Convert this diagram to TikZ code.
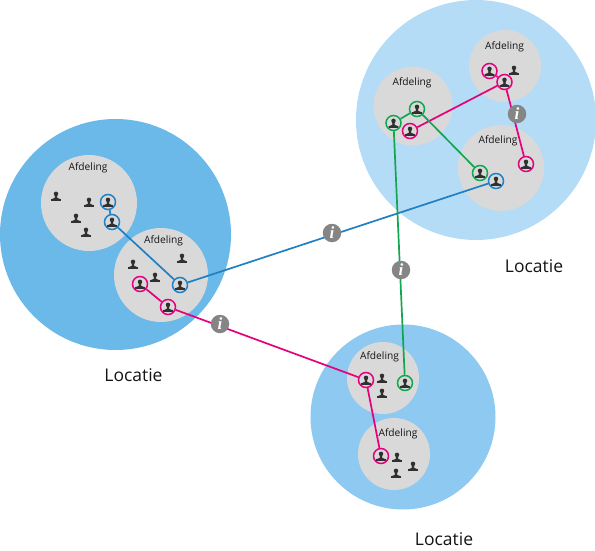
\documentclass[tikz,border=0pt]{standalone}
\usepackage{fontspec}
\setmainfont{Open Sans}
\newfontfamily\infofont{Liberation Serif}
\definecolor{LocA}{HTML}{6AB9E9}
\definecolor{LocB}{HTML}{B4DCF7}
\definecolor{LocC}{HTML}{8DC9F0}
\definecolor{Dept}{HTML}{D9D9D9}
\definecolor{Blue}{HTML}{2080C4}
\definecolor{Pink}{HTML}{E5007D}
\definecolor{Green}{HTML}{12A650}
\definecolor{Info}{HTML}{858585}
\definecolor{Figure}{HTML}{303030}
\tikzset{
  location/.style={circle,inner sep=0pt,minimum size=#1},
  dept/.style={circle,fill=Dept,inner sep=0pt,minimum size=#1},
  deptlabel/.style={font=\fontsize{10.2}{12}\selectfont,text=black!92},
  loclabel/.style={font=\fontsize{17.5}{20}\selectfont,text=black!92},
  person/.style={circle,inner sep=0pt,minimum size=15pt,path picture={
    \fill[Figure,shift={(path picture bounding box.center)}]
      (-4.8,4.8)--(-4.8,3.2)--(-1.3,2)--(-1.1,0.6)
      .. controls (-2.8,-0.6) and (-2.8,-4.4) .. (0,-4.4)
      .. controls (2.8,-4.4) and (2.8,-0.6) .. (1.1,0.6)
      --(1.3,2)--(4.8,3.2)--(4.8,4.8)--cycle;}},
  ring/.style={person,draw=#1,line width=1.5pt},
  link/.style={line width=1.7pt,#1},
  info/.style={circle,fill=Info,text=white,inner sep=0pt,minimum size=18.5pt,
    font=\infofont\fontsize{17}{17}\selectfont\bfseries\itshape}
}
\begin{document}
\begin{tikzpicture}[x=1pt,y=-1pt]
  \useasboundingbox (0,0) rectangle (595,551);
  % locations
  \node[location=231pt,fill=LocA] (locA) at (115.5,234.5) {};
  \node[location=240pt,fill=LocB] (locB) at (476,120) {};
  \node[location=185pt,fill=LocC] (locC) at (403,417) {};
  % departments
  \node[dept=96pt] (depA) at (89,203) {};
  \node[dept=94pt] (depB) at (161,275) {};
  \node[dept=79pt] (depC) at (413,106) {};
  \node[dept=72pt] (depD) at (505,66) {};
  \node[dept=86pt] (depE) at (501,168) {};
  \node[dept=72pt] (depF) at (383,378) {};
  \node[dept=72pt] (depG) at (394,454) {};
  \node[deptlabel] (labA) at (88,168) {Afdeling};
  \node[deptlabel] (labB) at (163.5,241) {Afdeling};
  \node[deptlabel] (labC) at (412,83) {Afdeling};
  \node[deptlabel] (labD) at (504.5,47) {Afdeling};
  \node[deptlabel] (labE) at (498,141) {Afdeling};
  \node[deptlabel] (labF) at (379.5,357) {Afdeling};
  \node[deptlabel] (labG) at (398,434) {Afdeling};
  \node[loclabel] (nameA) at (133.5,375) {Locatie};
  \node[loclabel] (nameB) at (534,266) {Locatie};
  \node[loclabel] (nameC) at (444,539) {Locatie};
  % people without a link
  \foreach \px/\py in {56/196,89/202,76/218,86/232,133/264,182/258,155/277,514/70,382/378,382/393,397/457,413/466,396/473}
    \node[person] at (\px,\py) {};
  % people with a link
  \node[ring=Blue] (b1) at (108,202) {};
  \node[ring=Blue] (b2) at (112,222) {};
  \node[ring=Blue] (b3) at (180,285) {};
  \node[ring=Blue] (b4) at (496,181) {};
  \node[ring=Pink] (p1) at (140,284) {};
  \node[ring=Pink] (p2) at (168,307) {};
  \node[ring=Pink] (p3) at (366,380) {};
  \node[ring=Pink] (p4) at (381,456) {};
  \node[ring=Pink] (p5) at (489.5,71) {};
  \node[ring=Pink] (p6) at (504.5,82) {};
  \node[ring=Pink] (p7) at (410,131) {};
  \node[ring=Pink] (p8) at (526,164) {};
  \node[ring=Green] (g1) at (417,109) {};
  \node[ring=Green] (g2) at (393.5,123) {};
  \node[ring=Green] (g3) at (480,173) {};
  \node[ring=Green] (g4) at (405,383) {};
  % links
  \draw[link=Blue] (b1)--(b2);
  \draw[link=Blue] (b2)--(b3);
  \draw[link=Blue] (b3)--(b4);
  \draw[link=Pink] (p1)--(p2);
  \draw[link=Pink] (p2)--(p3);
  \draw[link=Pink] (p3)--(p4);
  \draw[link=Pink] (p5)--(p6);
  \draw[link=Pink] (p6)--(p7);
  \draw[link=Pink] (p6)--(p8);
  \draw[link=Green] (g1)--(g2);
  \draw[link=Green] (g2)--(g4);
  \draw[link=Green] (g1)--(g3);
  % info marks
  \node[info] (i1) at (332,233) {i};
  \node[info] (i2) at (401,270) {i};
  \node[info] (i3) at (220,324) {i};
  \node[info] (i4) at (517,114) {i};
\end{tikzpicture}
\end{document}
